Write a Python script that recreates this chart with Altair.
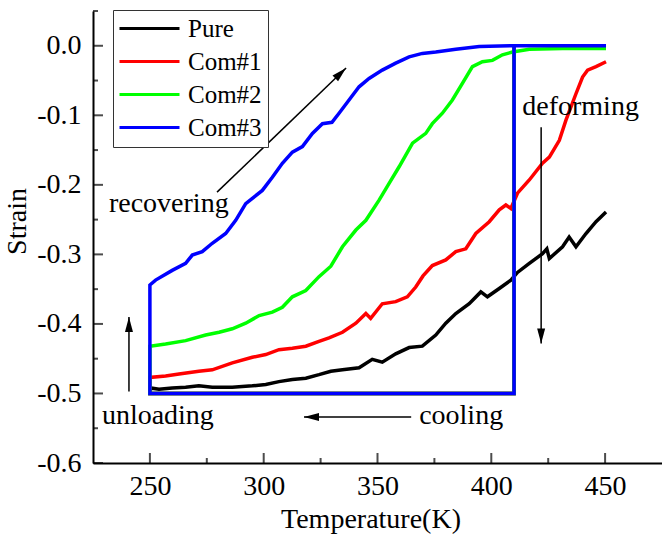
import altair as alt
import pandas as pd

FONT = "Liberation Serif, Times New Roman, serif"

SERIES = ["Pure", "Com#1", "Com#2", "Com#3"]
COLORS = ["#000000", "#ff0000", "#00ff00", "#0000ff"]

# common loading / cooling box (start of every path)
LOOP_T = [410.0, 410.0, 250.0]
LOOP_S = [0.0, -0.5, -0.5]

PURE_T = [250, 254, 259.8, 265.7, 271.5, 277.4, 286.2, 295, 300.9, 306.7, 312.6, 318.5, 324.3, 329.5,
          334.6, 341.9, 347.7, 352.1, 358, 363.9, 369.7, 375.6, 380, 384.4, 390.3, 395.4, 398.3, 403.5,
          408.6, 411.5, 416.7, 422.5, 424.4, 425.5, 431.3, 434.2, 437.2, 441.6, 446, 450.4]
PURE_S = [-0.492, -0.494, -0.492, -0.491, -0.489, -0.491, -0.491, -0.489, -0.487, -0.483, -0.480,
          -0.478, -0.473, -0.468, -0.466, -0.463, -0.451, -0.455, -0.443, -0.434, -0.432, -0.416,
          -0.399, -0.385, -0.371, -0.354, -0.361, -0.349, -0.337, -0.326, -0.313, -0.299, -0.292,
          -0.306, -0.289, -0.275, -0.289, -0.270, -0.253, -0.239]

COM1_T = [250, 256.9, 262.8, 271.5, 277.4, 286.2, 295, 300.9, 306.7, 312.6, 318.5, 324.3, 328.7,
          334.6, 340.5, 344.9, 347, 352.1, 358, 363.1, 366.8, 370, 374.1, 380, 384.4, 388.8, 393.2,
          399.1, 403.5, 406.4, 408.6, 411.5, 416.7, 422.5, 425.5, 429.9, 432.8, 437.2, 440.1, 442.3,
          446, 450.4]
COM1_S = [-0.477, -0.475, -0.472, -0.468, -0.466, -0.456, -0.448, -0.444, -0.437, -0.435, -0.432,
          -0.425, -0.420, -0.412, -0.399, -0.385, -0.392, -0.371, -0.368, -0.361, -0.347, -0.331,
          -0.316, -0.308, -0.296, -0.292, -0.270, -0.253, -0.236, -0.229, -0.234, -0.212, -0.193,
          -0.169, -0.160, -0.136, -0.107, -0.069, -0.045, -0.035, -0.030, -0.023]

COM2_T = [250, 256.9, 265.7, 274.5, 280.4, 286.2, 292.1, 298, 303.8, 308.2, 312.6, 318.5, 324.3,
          329.5, 334.6, 340.5, 344.9, 350.7, 355.1, 359.5, 365.4, 371.2, 374.1, 378.5, 382.9, 387.3,
          391.7, 396.1, 400.5, 404.9, 409.3, 416.7, 431.3, 450.4]
COM2_S = [-0.432, -0.429, -0.424, -0.416, -0.412, -0.407, -0.399, -0.388, -0.383, -0.376, -0.361,
          -0.352, -0.332, -0.317, -0.289, -0.265, -0.251, -0.222, -0.198, -0.174, -0.140, -0.126,
          -0.112, -0.097, -0.078, -0.054, -0.030, -0.023, -0.021, -0.013, -0.009, -0.005, -0.004,
          -0.004]

COM3_T = [250, 252.5, 259.8, 265.7, 268.6, 273, 277.4, 283.3, 287.7, 292.1, 299.4, 303.8, 308.2,
          312.6, 317, 321.4, 325.8, 330, 333.1, 337.5, 341.9, 346.3, 352.1, 358, 363.9, 369.7,
          375.6, 384.4, 394.7, 409.3, 450.4]
COM3_S = [-0.344, -0.337, -0.323, -0.313, -0.301, -0.296, -0.284, -0.270, -0.251, -0.227, -0.208,
          -0.189, -0.169, -0.153, -0.145, -0.126, -0.112, -0.110, -0.097, -0.078, -0.059, -0.047,
          -0.035, -0.025, -0.016, -0.011, -0.009, -0.005, -0.001, 0.0, 0.0]

CURVES = {"Pure": (PURE_T, PURE_S), "Com#1": (COM1_T, COM1_S),
          "Com#2": (COM2_T, COM2_S), "Com#3": (COM3_T, COM3_S)}

# annotations
ANN_TEXT = ["recovering", "deforming", "unloading", "cooling"]
ANN_TEXT_T = [232.0, 413.6, 228.9, 368.3]
ANN_TEXT_S = [-0.2388, -0.0997, -0.5433, -0.544]
ARROW_T0 = [279.5, 421.9, 240.8, 364.8]
ARROW_S0 = [-0.2105, -0.117, -0.497, -0.534]
ARROW_T1 = [336.2, 421.9, 240.8, 317.7]
ARROW_S1 = [-0.032, -0.428, -0.390, -0.534]
ARROW_ANGLE = [46, 180, 0, 270]

X_MAJOR = [250, 300, 350, 400, 450]
X_MINOR = [275, 325, 375, 425]
Y_MAJOR = [-0.6, -0.5, -0.4, -0.3, -0.2, -0.1, 0.0]
Y_MINOR = [-0.55, -0.45, -0.35, -0.25, -0.15, -0.05, 0.05]

W, H = 569, 452

rows = []
for name in SERIES:
    ts, ss = CURVES[name]
    allt = LOOP_T + list(ts)
    alls = LOOP_S + list(ss)
    for i, (t, s) in enumerate(zip(allt, alls)):
        rows.append({"series": name, "T": t, "S": s, "idx": i})
df = pd.DataFrame(rows)

xs = alt.Scale(domain=[225, 475], nice=False, zero=False)
ys = alt.Scale(domain=[-0.6, 0.05], nice=False, zero=False)
cs = alt.Scale(domain=SERIES, range=COLORS)

xaxis = alt.Axis(values=X_MAJOR, tickSize=0, labelPadding=9, labelFont=FONT, labelFontSize=28,
                 labelColor="black", grid=False, domainColor="black", domainWidth=2,
                 title="Temperature(K)", titleFont=FONT, titleFontSize=28, titleFontWeight="normal",
                 titleColor="black", titleX=277.5, titleY=64.5, titleBaseline="alphabetic",
                 titleAlign="center", labelFlush=False)
yaxis = alt.Axis(values=Y_MAJOR, tickSize=0, labelPadding=12, labelFont=FONT, labelFontSize=28,
                 labelColor="black", grid=False, domainColor="black", domainWidth=2,
                 labelExpr="datum.value < -0.001 ? '-' + format(-datum.value, '.1f') : format(0, '.1f')",
                 title="Strain", titleFont=FONT, titleFontSize=28, titleFontWeight="normal",
                 titleColor="black", titleX=-68, titleY=210, titleBaseline="alphabetic",
                 titleAlign="center", titleAngle=-90, labelFlush=False)


def X(field):
    return alt.X(field, scale=xs, axis=xaxis)


def Y(field):
    return alt.Y(field, scale=ys, axis=yaxis)


legend = alt.Legend(orient="none", legendX=20, legendY=-1, title=None, direction="vertical",
                    labelFont=FONT, labelFontSize=25, labelColor="black",
                    symbolType="M-1.2,0L4.8,0", symbolSize=400, symbolStrokeWidth=3,
                    strokeColor="#333333", fillColor="white",
                    padding=6, labelOffset=44, rowPadding=7)

layers = []
for k, name in enumerate(SERIES):
    layers.append(
        alt.Chart(df).transform_filter(alt.datum.series == name)
        .mark_line(strokeWidth=3.5, clip=True).encode(
            x=X("T:Q"), y=Y("S:Q"),
            color=alt.Color("series:N", scale=cs, legend=legend),
            order=alt.Order("idx:Q"),
        )
    )

ann = pd.DataFrame({"text": ANN_TEXT, "tt": ANN_TEXT_T, "ts": ANN_TEXT_S,
                    "t0": ARROW_T0, "s0": ARROW_S0, "t1": ARROW_T1, "s1": ARROW_S1,
                    "ang": ARROW_ANGLE})

shafts = alt.Chart(ann).mark_rule(color="black", strokeWidth=1.5).encode(
    x=X("t0:Q"), y=Y("s0:Q"), x2="t1:Q", y2="s1:Q")
heads = alt.Chart(ann).mark_point(shape="M0,0L-0.8,3L0.8,3Z", filled=True, color="black",
                                  opacity=1, size=100).encode(
    x=X("t1:Q"), y=Y("s1:Q"), angle=alt.Angle("ang:Q", scale=None))
texts = alt.Chart(ann).mark_text(font=FONT, fontSize=28, align="left", baseline="alphabetic",
                                 color="black").encode(
    x=X("tt:Q"), y=Y("ts:Q"), text="text:N")

xmaj = alt.Chart(pd.DataFrame({"v": X_MAJOR})).mark_tick(orient="vertical", size=10, thickness=2,
                                                         color="black").encode(
    x=X("v:Q"), y=alt.value(H - 5))
xmin = alt.Chart(pd.DataFrame({"v": X_MINOR})).mark_tick(orient="vertical", size=5, thickness=2,
                                                         color="black").encode(
    x=X("v:Q"), y=alt.value(H - 2.5))
ymaj = alt.Chart(pd.DataFrame({"v": Y_MAJOR})).mark_tick(orient="horizontal", size=10, thickness=2,
                                                         color="black").encode(
    y=Y("v:Q"), x=alt.value(5))
ymin = alt.Chart(pd.DataFrame({"v": Y_MINOR})).mark_tick(orient="horizontal", size=5, thickness=2,
                                                         color="black").encode(
    y=Y("v:Q"), x=alt.value(2.5))

chart = alt.layer(*layers, shafts, heads, texts, xmaj, xmin, ymaj, ymin).properties(
    width=W, height=H,
    autosize=alt.AutoSizeParams(type="none"),
    padding={"left": 93, "top": 11, "right": 0, "bottom": 80},
    background="white",
).configure_view(stroke=None)

chart.save("out.html", embed_options={"renderer": "svg", "actions": False})
